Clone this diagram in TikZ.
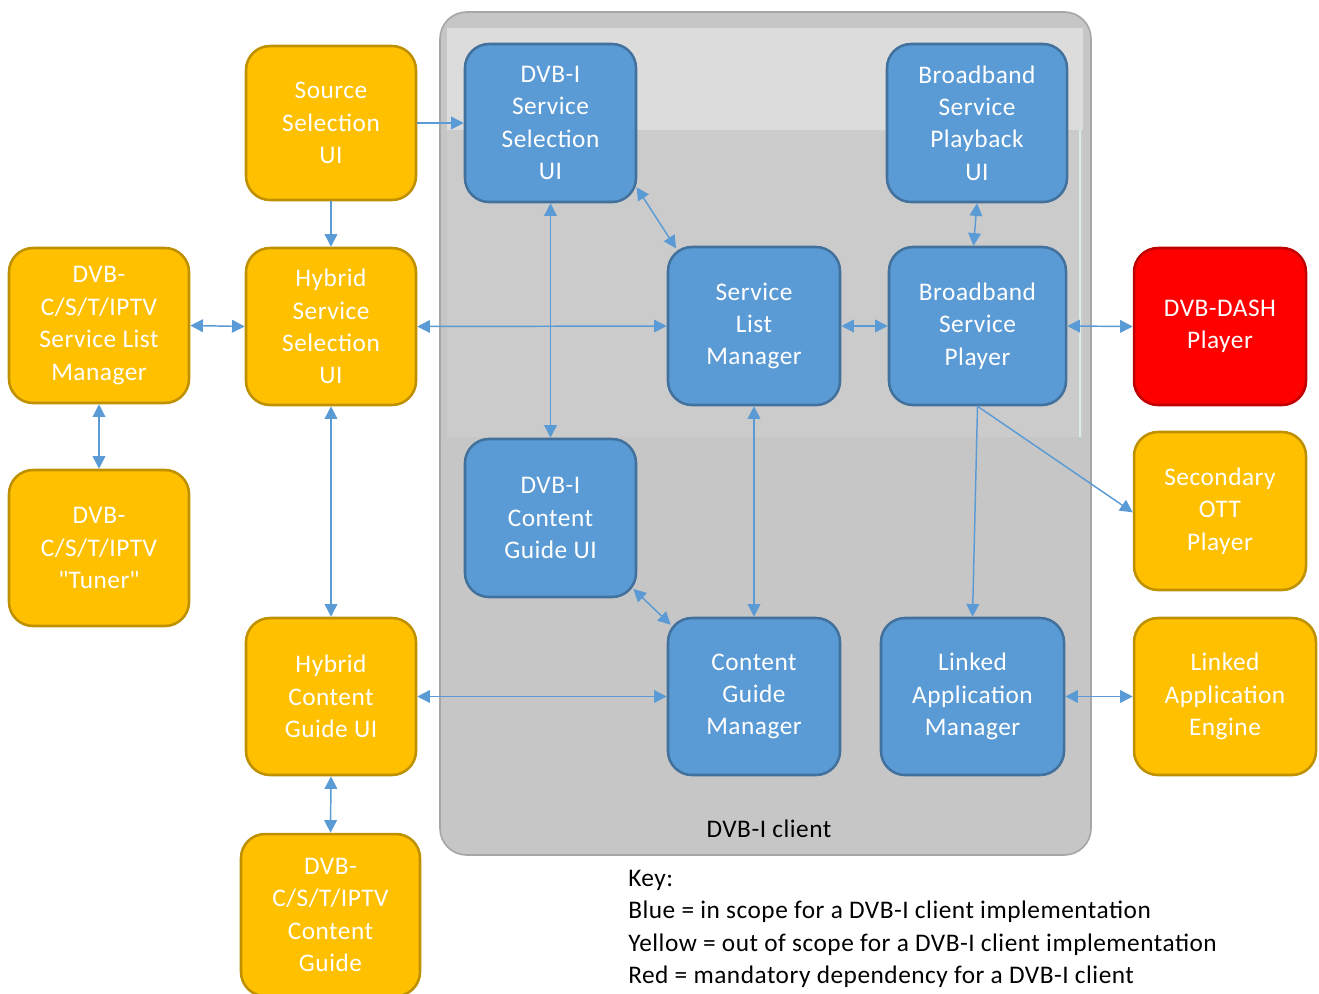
\documentclass[tikz,border=0pt]{standalone}
\usepackage{fontspec}
\setmainfont[LetterSpace=2]{Carlito}
\usetikzlibrary{arrows.meta}
\definecolor{yfill}{HTML}{FFC000}
\definecolor{ydraw}{HTML}{BF9000}
\definecolor{bfill}{HTML}{5B9BD5}
\definecolor{bdraw}{HTML}{41719C}
\definecolor{rfill}{HTML}{FF0000}
\definecolor{rdraw}{HTML}{C00000}
\definecolor{conn}{HTML}{5B9BD5}
\definecolor{contfill}{HTML}{C6C6C6}
\definecolor{contdraw}{HTML}{A6A6A6}
\definecolor{bandmid}{HTML}{CBCBCB}
\definecolor{bandtop}{HTML}{DCDCDC}
\tikzset{
  bx/.style n args={2}{minimum width=#1*0.75pt, minimum height=#2*0.75pt},
  comp/.style={rounded corners=18pt, line width=1.9pt, text=white, align=center, inner sep=2pt,
    font=\fontsize{19}{24.3}\selectfont},
  yel/.style={comp, fill=yfill, draw=ydraw},
  blu/.style={comp, fill=bfill, draw=bdraw},
  rd/.style={comp, fill=rfill, draw=rdraw},
  lnk/.style={draw=conn, line width=1.1pt},
  bi/.style={lnk, {Triangle[length=9.5pt,width=9.5pt]}-{Triangle[length=9.5pt,width=9.5pt]}},
  one/.style={lnk, -{Triangle[length=9.5pt,width=9.5pt]}},
}
\begin{document}
\begin{tikzpicture}[x=0.75pt,y=-0.75pt]
\useasboundingbox (0,0) rectangle (1319,993);
% container
\draw[fill=contfill, draw=contdraw, line width=1.2pt, rounded corners=20pt] (440,12) rectangle (1091,855);
\fill[bandmid] (447,28) rectangle (1083,437);
\fill[bandtop] (447,28) rectangle (1083,130);
\draw[color=white!85!teal, line width=1pt] (1080,130) -- (1080,437);
\node[font=\fontsize{19}{24}\selectfont] (cl) at (769,829) {DVB-I client};

% yellow nodes
\node[yel, bx={170}{154}] (src) at (331,123) {Source\\Selection\\UI};
\node[yel, bx={170}{157}] (hss) at (331,326.5) {Hybrid\\Service\\Selection\\UI};
\node[yel, bx={180}{155}] (csl) at (99,325.5) {DVB-\\C/S/T/IPTV\\Service List\\Manager};
\node[yel, bx={180}{156}] (tun) at (99,548) {DVB-\\C/S/T/IPTV\\\textquotedbl Tuner\textquotedbl};
\node[yel, bx={170}{157}] (hcg) at (331,696.5) {Hybrid\\Content\\Guide UI};
\node[yel, bx={179}{162}] (ccg) at (330.5,915) {DVB-\\C/S/T/IPTV\\Content\\Guide};
\node[yel, bx={172}{158}] (ott) at (1220,511) {Secondary\\OTT\\Player};
\node[yel, bx={182}{157}] (lae) at (1225,696.5) {Linked\\Application\\Engine};
% red node
\node[rd, bx={172}{157}] (dash) at (1220,326.5) {DVB-DASH\\Player};
% blue nodes
\node[blu, bx={171}{158}] (dss) at (550.5,123) {DVB-I\\Service\\Selection\\UI};
\node[blu, bx={180}{158}] (bpu) at (977,123) {Broadband\\Service\\Playback\\UI};
\node[blu, bx={172}{158}] (slm) at (754,326) {Service\\List\\Manager};
\node[blu, bx={177}{158}] (bsp) at (977.5,326) {Broadband\\Service\\Player};
\node[blu, bx={171}{158}] (dcg) at (550.5,518) {DVB-I\\Content\\Guide UI};
\node[blu, bx={172}{157}] (cgm) at (754,696.5) {Content\\Guide\\Manager};
\node[blu, bx={183}{157}] (lam) at (972.5,696.5) {Linked\\Application\\Manager};

% key
\node[anchor=north west, align=left, inner sep=0pt, font=\fontsize{19}{24.3}\selectfont] (key) at (628,870)
  {Key:\\Blue = in scope for a DVB-I client implementation\\Yellow = out of scope for a DVB-I client implementation\\Red = mandatory dependency for a DVB-I client};

% connectors
\draw[one] (src.east) -- (dss.west);
\draw[one] (src.south) -- (hss.north);
\draw[bi] (csl.east) -- (hss.west);
\draw[bi] (csl.south) -- (tun.north);
\draw[bi] (hss.east) -- (slm.west);
\draw[bi] (hss.south) -- (hcg.north);
\draw[bi] (hcg.south) -- (ccg.north);
\draw[bi] (hcg.east) -- (cgm.west);
\draw[bi] (dss.south) -- (dcg.north);
\draw[bi] ([xshift=-0.5pt,yshift=12pt]dss.south east) -- ([xshift=7pt,yshift=-2pt]slm.north west);
\draw[bi] (bpu.south) -- ([xshift=-3pt]bsp.north);
\draw[bi] (slm.east) -- (bsp.west);
\draw[bi] (bsp.east) -- (dash.west);
\draw[one] (bsp.south) -- ([yshift=-1pt]ott.west);
\draw[one] (bsp.south) -- (lam.north);
\draw[bi] (slm.south) -- (cgm.north);
\draw[bi] ([xshift=-3pt,yshift=7pt]dcg.south east) -- ([xshift=3pt,yshift=-6pt]cgm.north west);
\draw[bi] (lam.east) -- (lae.west);
\end{tikzpicture}
\end{document}
